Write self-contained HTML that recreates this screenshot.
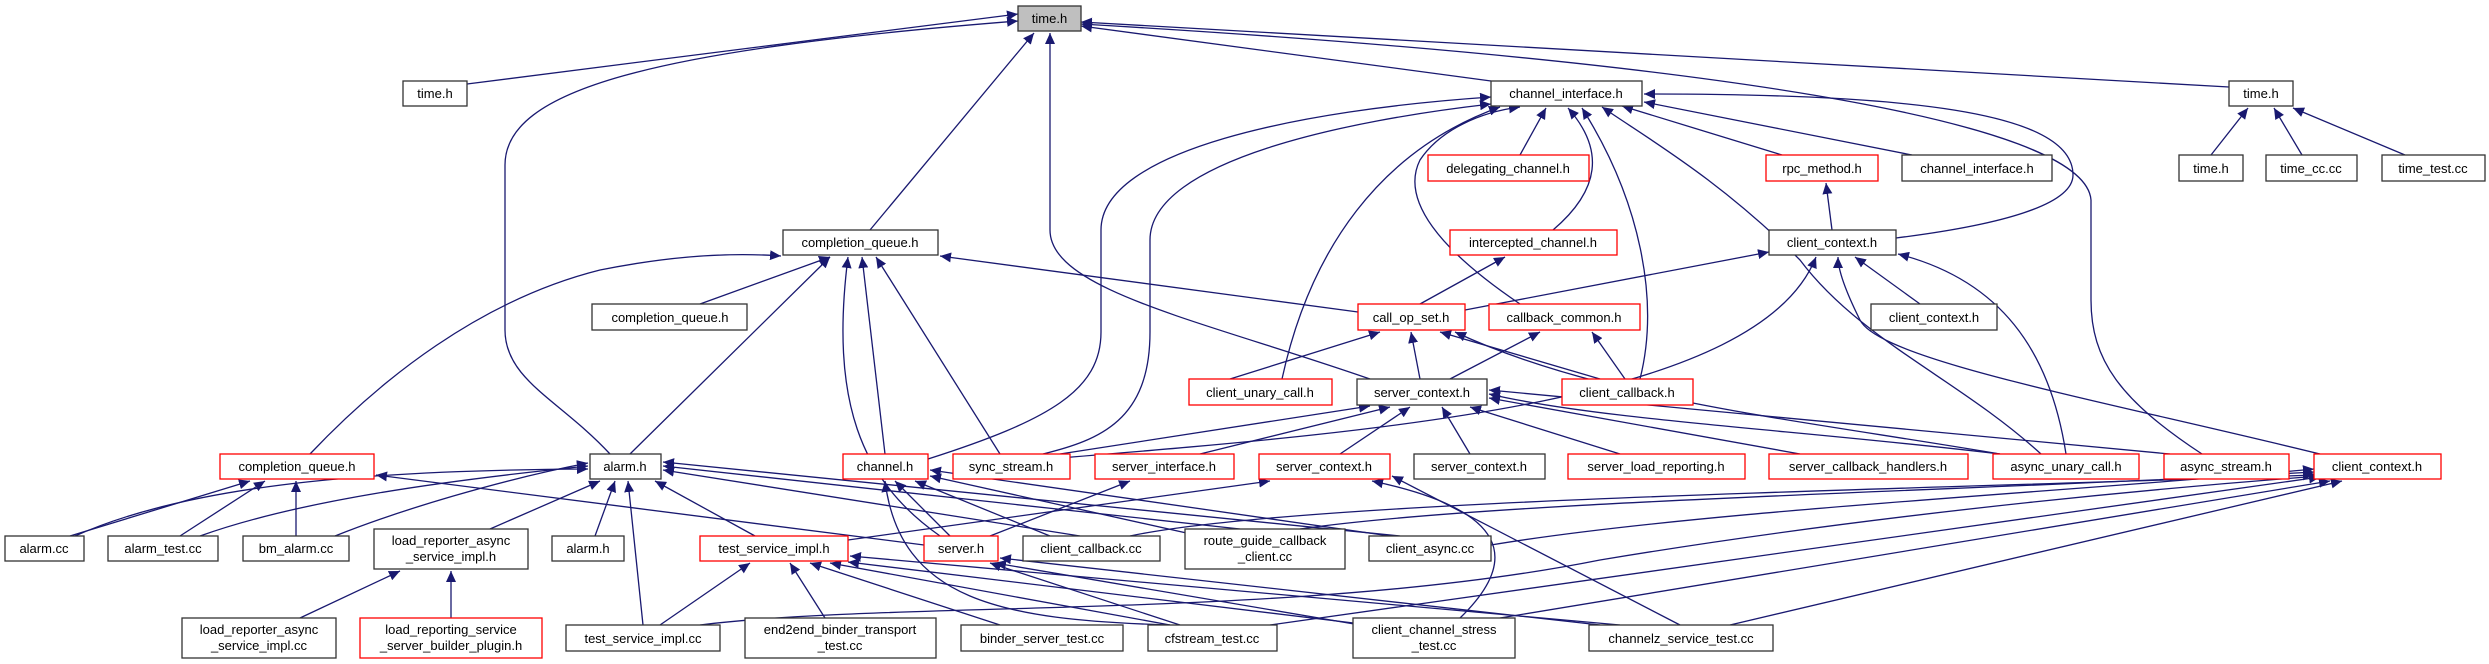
<!DOCTYPE html>
<html><head><meta charset="utf-8"><style>
html,body{margin:0;padding:0;background:#fff}
svg{display:block}
text{font-family:"Liberation Sans",sans-serif;font-size:13px;fill:#000}
.e{fill:none;stroke:#191970;stroke-width:1.3;marker-end:url(#a)}
.b{fill:#fff;stroke:#333;stroke-width:1.3}
.r{fill:#fff;stroke:#ff0000;stroke-width:1.3}
</style></head><body>
<svg width="2489" height="664" viewBox="0 0 2489 664" xmlns="http://www.w3.org/2000/svg">
<defs><marker id="a" markerUnits="userSpaceOnUse" markerWidth="12" markerHeight="10" refX="11" refY="5" orient="auto"><path d="M0,0 L11,5 L0,10 z" fill="#191970"/></marker></defs>
<g>
<!-- root edges -->
<path class="e" d="M467,84 L1018,14"/>
<path class="e" d="M870,230 L1034,33"/>
<path class="e" d="M610,454 C560,400 505,380 505,330 L505,165 C505,90 650,50 1018,21"/>
<path class="e" d="M1370,379 C1200,320 1050,290 1050,230 L1050,33"/>
<path class="e" d="M1491,81 L1081,26"/>
<path class="e" d="M2229,87 L1081,22"/>
<path class="e" d="M2202,454 C2120,400 2091,360 2091,300 L2091,200 C2085,120 1700,60 1081,24"/>
<!-- channel_interface edges -->
<path class="e" d="M1896,238 C2000,225 2073,205 2073,175 C2073,110 1900,94 1644,94"/>
<path class="e" d="M1782,155 L1622,106"/>
<path class="e" d="M1912,155 L1644,102"/>
<path class="e" d="M2041,454 C1960,380 1860,340 1800,260 C1720,180 1650,140 1602,107"/>
<path class="e" d="M1520,155 L1546,108"/>
<path class="e" d="M1553,230 C1600,190 1605,150 1568,108"/>
<path class="e" d="M1640,379 C1660,300 1640,200 1582,108"/>
<path class="e" d="M1520,304 C1440,250 1400,200 1420,160 C1440,130 1480,112 1520,107"/>
<path class="e" d="M1282,379 C1310,250 1380,150 1500,107"/>
<path class="e" d="M1043,454 C1100,440 1150,420 1150,332 L1150,240 C1150,160 1350,120 1491,104"/>
<path class="e" d="M928,459 C1050,420 1101,390 1101,332 L1101,230 C1101,150 1300,110 1491,97"/>
<!-- time.h right -->
<path class="e" d="M2211,155 L2248,108"/>
<path class="e" d="M2302,155 L2274,108"/>
<path class="e" d="M2405,155 L2293,108"/>
<!-- misc -->
<path class="e" d="M1832,230 L1826,183"/>
<path class="e" d="M1420,304 L1505,257"/>
<path class="e" d="M1465,310 L1769,252"/>
<path class="e" d="M1920,304 L1855,257"/>
<path class="e" d="M2066,454 C2050,350 2000,280 1898,254"/>
<path class="e" d="M2320,454 C2100,400 1880,360 1860,320 C1845,290 1838,270 1838,257"/>
<path class="e" d="M1060,458 C1400,430 1760,400 1816,257"/>
<!-- completion_queue top -->
<path class="e" d="M700,304 L830,257"/>
<path class="e" d="M310,454 C380,380 480,300 600,270 Q700,250 781,256"/>
<path class="e" d="M1358,312 L940,256"/>
<path class="e" d="M630,454 L830,257"/>
<path class="e" d="M885,454 L862,257"/>
<path class="e" d="M1000,454 L876,257"/>
<path class="e" d="M940,536 C860,480 830,400 848,257"/>
<!-- call_op_set -->
<path class="e" d="M1230,379 L1380,332"/>
<path class="e" d="M1420,379 L1411,332"/>
<path class="e" d="M1600,379 L1440,332"/>
<path class="e" d="M2000,454 C1800,420 1600,400 1455,332"/>
<path class="e" d="M1450,379 L1540,332"/>
<path class="e" d="M1625,379 L1592,332"/>
<!-- server_context -->
<path class="e" d="M1060,454 L1370,406"/>
<path class="e" d="M1200,454 L1390,407"/>
<path class="e" d="M1340,454 L1410,407"/>
<path class="e" d="M1470,454 L1442,407"/>
<path class="e" d="M1620,454 L1470,407"/>
<path class="e" d="M1800,454 L1489,398"/>
<path class="e" d="M2000,454 C1800,430 1600,420 1489,394"/>
<path class="e" d="M2170,454 L1489,390"/>
<!-- completion_queue red -->
<path class="e" d="M70,536 L250,481"/>
<path class="e" d="M180,536 L265,481"/>
<path class="e" d="M296,536 L296,481"/>
<path class="e" d="M924,545 L376,475"/>
<!-- alarm.h -->
<path class="e" d="M75,536 C200,480 400,470 588,469"/>
<path class="e" d="M200,536 C300,500 450,480 588,466"/>
<path class="e" d="M335,536 C400,510 500,480 588,463"/>
<path class="e" d="M490,529 L600,481"/>
<path class="e" d="M595,536 L615,481"/>
<path class="e" d="M643,625 L628,481"/>
<path class="e" d="M755,536 L655,481"/>
<path class="e" d="M1080,536 L663,470"/>
<path class="e" d="M1240,529 L663,466"/>
<path class="e" d="M1400,536 L663,462"/>
<!-- load reporter -->
<path class="e" d="M300,618 L400,571"/>
<path class="e" d="M451,618 L451,571"/>
<!-- test_service_impl.h -->
<path class="e" d="M660,625 L750,563"/>
<path class="e" d="M825,618 L790,563"/>
<path class="e" d="M1000,625 L810,563"/>
<path class="e" d="M1170,625 L830,563"/>
<path class="e" d="M1370,625 L848,562"/>
<path class="e" d="M1620,625 L850,556"/>
<!-- channel.h -->
<path class="e" d="M950,536 L895,481"/>
<path class="e" d="M1050,536 L915,481"/>
<path class="e" d="M1200,536 L930,476"/>
<path class="e" d="M1390,536 L930,470"/>
<path class="e" d="M1170,625 C1000,620 900,600 885,481"/>
<path class="e" d="M990,536 L1130,481"/>
<!-- server_context red -->
<path class="e" d="M848,540 L1270,481"/>
<path class="e" d="M1460,618 C1520,560 1510,510 1372,481"/>
<path class="e" d="M1680,625 L1392,476"/>
<!-- server.h -->
<path class="e" d="M1180,625 L990,563"/>
<path class="e" d="M1360,625 L995,563"/>
<path class="e" d="M1600,625 L1000,558"/>
<!-- client_context red -->
<path class="e" d="M1130,536 C1300,500 1900,490 2314,475"/>
<path class="e" d="M1300,529 C1500,500 2000,490 2314,472"/>
<path class="e" d="M1491,545 C1700,510 2100,490 2314,469"/>
<path class="e" d="M700,625 C900,600 1300,620 1600,560 C1900,510 2200,485 2320,476"/>
<path class="e" d="M1270,625 L2320,477"/>
<path class="e" d="M1500,618 L2330,481"/>
<path class="e" d="M1730,625 L2342,481"/>
</g>
<g>
<rect x="1018" y="6" width="63" height="25" fill="#bfbfbf" stroke="#333" stroke-width="1.3"/><text x="1049.5" y="23" text-anchor="middle">time.h</text>
<rect class="b" x="403" y="81" width="64" height="25"/><text x="435" y="98" text-anchor="middle">time.h</text>
<rect class="b" x="1491" y="81" width="151" height="25"/><text x="1566" y="98" text-anchor="middle">channel_interface.h</text>
<rect class="b" x="2229" y="81" width="64" height="25"/><text x="2261" y="98" text-anchor="middle">time.h</text>
<rect class="r" x="1428" y="155" width="161" height="26"/><text x="1508" y="173" text-anchor="middle">delegating_channel.h</text>
<rect class="r" x="1766" y="155" width="112" height="26"/><text x="1822" y="173" text-anchor="middle">rpc_method.h</text>
<rect class="b" x="1902" y="155" width="150" height="26"/><text x="1977" y="173" text-anchor="middle">channel_interface.h</text>
<rect class="b" x="2179" y="155" width="64" height="26"/><text x="2211" y="173" text-anchor="middle">time.h</text>
<rect class="b" x="2266" y="155" width="91" height="26"/><text x="2311" y="173" text-anchor="middle">time_cc.cc</text>
<rect class="b" x="2382" y="155" width="103" height="26"/><text x="2433" y="173" text-anchor="middle">time_test.cc</text>
<rect class="b" x="783" y="230" width="155" height="25"/><text x="860" y="247" text-anchor="middle">completion_queue.h</text>
<rect class="r" x="1450" y="230" width="167" height="25"/><text x="1533" y="247" text-anchor="middle">intercepted_channel.h</text>
<rect class="b" x="1769" y="230" width="127" height="25"/><text x="1832" y="247" text-anchor="middle">client_context.h</text>
<rect class="b" x="592" y="304" width="155" height="26"/><text x="670" y="322" text-anchor="middle">completion_queue.h</text>
<rect class="r" x="1358" y="304" width="107" height="26"/><text x="1411" y="322" text-anchor="middle">call_op_set.h</text>
<rect class="r" x="1489" y="304" width="151" height="26"/><text x="1564" y="322" text-anchor="middle">callback_common.h</text>
<rect class="b" x="1871" y="304" width="126" height="26"/><text x="1934" y="322" text-anchor="middle">client_context.h</text>
<rect class="r" x="1189" y="379" width="143" height="26"/><text x="1260" y="397" text-anchor="middle">client_unary_call.h</text>
<rect class="b" x="1357" y="379" width="130" height="26"/><text x="1422" y="397" text-anchor="middle">server_context.h</text>
<rect class="r" x="1562" y="379" width="131" height="26"/><text x="1627" y="397" text-anchor="middle">client_callback.h</text>
<rect class="r" x="220" y="454" width="154" height="25"/><text x="297" y="471" text-anchor="middle">completion_queue.h</text>
<rect class="b" x="590" y="454" width="71" height="25"/><text x="625" y="471" text-anchor="middle">alarm.h</text>
<rect class="r" x="843" y="454" width="85" height="25"/><text x="885" y="471" text-anchor="middle">channel.h</text>
<rect class="r" x="953" y="454" width="117" height="25"/><text x="1011" y="471" text-anchor="middle">sync_stream.h</text>
<rect class="r" x="1095" y="454" width="139" height="25"/><text x="1164" y="471" text-anchor="middle">server_interface.h</text>
<rect class="r" x="1259" y="454" width="131" height="25"/><text x="1324" y="471" text-anchor="middle">server_context.h</text>
<rect class="b" x="1414" y="454" width="131" height="25"/><text x="1479" y="471" text-anchor="middle">server_context.h</text>
<rect class="r" x="1568" y="454" width="177" height="25"/><text x="1656" y="471" text-anchor="middle">server_load_reporting.h</text>
<rect class="r" x="1769" y="454" width="199" height="25"/><text x="1868" y="471" text-anchor="middle">server_callback_handlers.h</text>
<rect class="r" x="1993" y="454" width="146" height="25"/><text x="2066" y="471" text-anchor="middle">async_unary_call.h</text>
<rect class="r" x="2164" y="454" width="125" height="25"/><text x="2226" y="471" text-anchor="middle">async_stream.h</text>
<rect class="r" x="2314" y="454" width="127" height="25"/><text x="2377" y="471" text-anchor="middle">client_context.h</text>
<rect class="b" x="5" y="536" width="79" height="25"/><text x="44" y="553" text-anchor="middle">alarm.cc</text>
<rect class="b" x="108" y="536" width="110" height="25"/><text x="163" y="553" text-anchor="middle">alarm_test.cc</text>
<rect class="b" x="243" y="536" width="106" height="25"/><text x="296" y="553" text-anchor="middle">bm_alarm.cc</text>
<rect class="b" x="374" y="529" width="154" height="40"/><text x="451" y="545" text-anchor="middle">load_reporter_async</text><text x="451" y="561" text-anchor="middle">_service_impl.h</text>
<rect class="b" x="552" y="536" width="72" height="25"/><text x="588" y="553" text-anchor="middle">alarm.h</text>
<rect class="r" x="700" y="536" width="148" height="25"/><text x="774" y="553" text-anchor="middle">test_service_impl.h</text>
<rect class="r" x="924" y="536" width="74" height="25"/><text x="961" y="553" text-anchor="middle">server.h</text>
<rect class="b" x="1023" y="536" width="137" height="25"/><text x="1091" y="553" text-anchor="middle">client_callback.cc</text>
<rect class="b" x="1185" y="529" width="160" height="40"/><text x="1265" y="545" text-anchor="middle">route_guide_callback</text><text x="1265" y="561" text-anchor="middle">_client.cc</text>
<rect class="b" x="1369" y="536" width="122" height="25"/><text x="1430" y="553" text-anchor="middle">client_async.cc</text>
<rect class="b" x="182" y="618" width="154" height="40"/><text x="259" y="634" text-anchor="middle">load_reporter_async</text><text x="259" y="650" text-anchor="middle">_service_impl.cc</text>
<rect class="r" x="360" y="618" width="182" height="40"/><text x="451" y="634" text-anchor="middle">load_reporting_service</text><text x="451" y="650" text-anchor="middle">_server_builder_plugin.h</text>
<rect class="b" x="566" y="625" width="154" height="26"/><text x="643" y="643" text-anchor="middle">test_service_impl.cc</text>
<rect class="b" x="745" y="618" width="191" height="40"/><text x="840" y="634" text-anchor="middle">end2end_binder_transport</text><text x="840" y="650" text-anchor="middle">_test.cc</text>
<rect class="b" x="961" y="625" width="162" height="26"/><text x="1042" y="643" text-anchor="middle">binder_server_test.cc</text>
<rect class="b" x="1148" y="625" width="129" height="26"/><text x="1212" y="643" text-anchor="middle">cfstream_test.cc</text>
<rect class="b" x="1353" y="618" width="162" height="40"/><text x="1434" y="634" text-anchor="middle">client_channel_stress</text><text x="1434" y="650" text-anchor="middle">_test.cc</text>
<rect class="b" x="1589" y="625" width="184" height="26"/><text x="1681" y="643" text-anchor="middle">channelz_service_test.cc</text>
</g>
</svg>
</body></html>
